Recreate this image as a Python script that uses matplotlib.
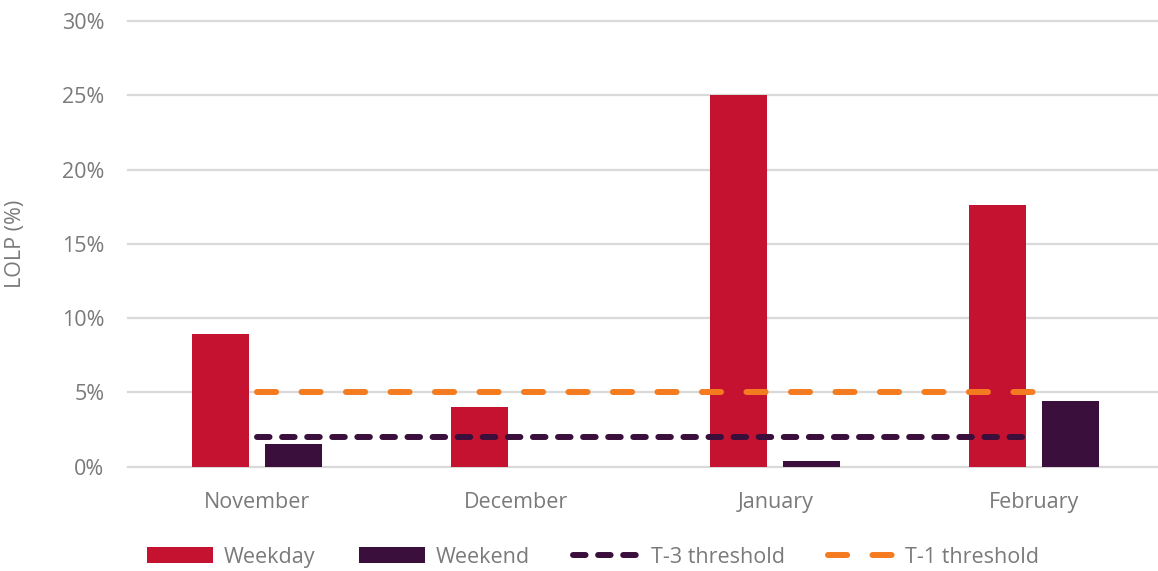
import matplotlib
matplotlib.use("Agg")
import matplotlib.pyplot as plt
import numpy as np
from matplotlib.patches import Patch
from matplotlib.lines import Line2D

# Monthly loss-of-load probability (%)
months = ["November", "December", "January", "February"]
weekday = [8.9, 4.0, 25.0, 17.6]
weekend = [1.5, 0.0, 0.4, 4.4]
t3_threshold = [2, 2, 2, 2]
t1_threshold = [5, 5, 5, 5]
y_ticks = [0, 5, 10, 15, 20, 25, 30]

WEEKDAY_C = "#C41230"
WEEKEND_C = "#3A0F3C"
T1_C = "#F47B20"
TEXT_C = "#7a7a7a"
GRID_C = "#d9d9d9"
FS = 15.5

plt.rcParams["font.family"] = ["Open Sans", "DejaVu Sans"]

fig = plt.figure(figsize=(11.58, 5.71), dpi=100)
ax = fig.add_axes([0.1105, 0.183, 0.8895, 0.780])

x = np.arange(len(months))
w = 0.22
off = 0.141

for t in y_ticks:
    ax.axhline(t, color=GRID_C, lw=1.6, zorder=0, clip_on=False)

ax.bar(x - off, weekday, width=w, color=WEEKDAY_C, zorder=2)
ax.bar(x + off, weekend, width=w, color=WEEKEND_C, zorder=2)

lw = 4.3
t3_style = dict(color=WEEKEND_C, lw=lw, linestyle=(0, (2.1, 2.1)),
                dash_capstyle="round", solid_capstyle="round")
t1_style = dict(color=T1_C, lw=lw, linestyle=(0, (3.2, 4.25)),
                dash_capstyle="round", solid_capstyle="round")
ax.plot(x, t3_threshold, zorder=3, **t3_style)
ax.plot(x, t1_threshold, zorder=3, **t1_style)

ax.set_xlim(-0.5, 3.477)
ax.set_ylim(0, 30)
ax.set_xticks(x)
ax.set_xticklabels(months)
ax.set_yticks(y_ticks)
ax.set_yticklabels([f"{t}%" for t in y_ticks])
ax.tick_params(axis="both", length=0, labelsize=FS, colors=TEXT_C)
ax.tick_params(axis="x", pad=18)
ax.tick_params(axis="y", pad=17)
for s in ax.spines.values():
    s.set_visible(False)

ax.set_ylabel("LOLP (%)", fontsize=FS, color=TEXT_C)
ax.yaxis.set_label_coords(-0.099, 0.5)

handles = [
    Patch(facecolor=WEEKDAY_C, edgecolor="none", label="Weekday"),
    Patch(facecolor=WEEKEND_C, edgecolor="none", label="Weekend"),
    Line2D([], [], label="T-3 threshold", **t3_style),
    Line2D([], [], label="T-1 threshold", **t1_style),
]
leg = fig.legend(handles=handles, loc="center", bbox_to_anchor=(0.512, 0.0245),
                 ncol=4, frameon=False, fontsize=FS, handlelength=3.1,
                 handleheight=0.7, handletextpad=0.5, columnspacing=2.0)
for txt in leg.get_texts():
    txt.set_color(TEXT_C)

fig.savefig("out.png", dpi=100)
